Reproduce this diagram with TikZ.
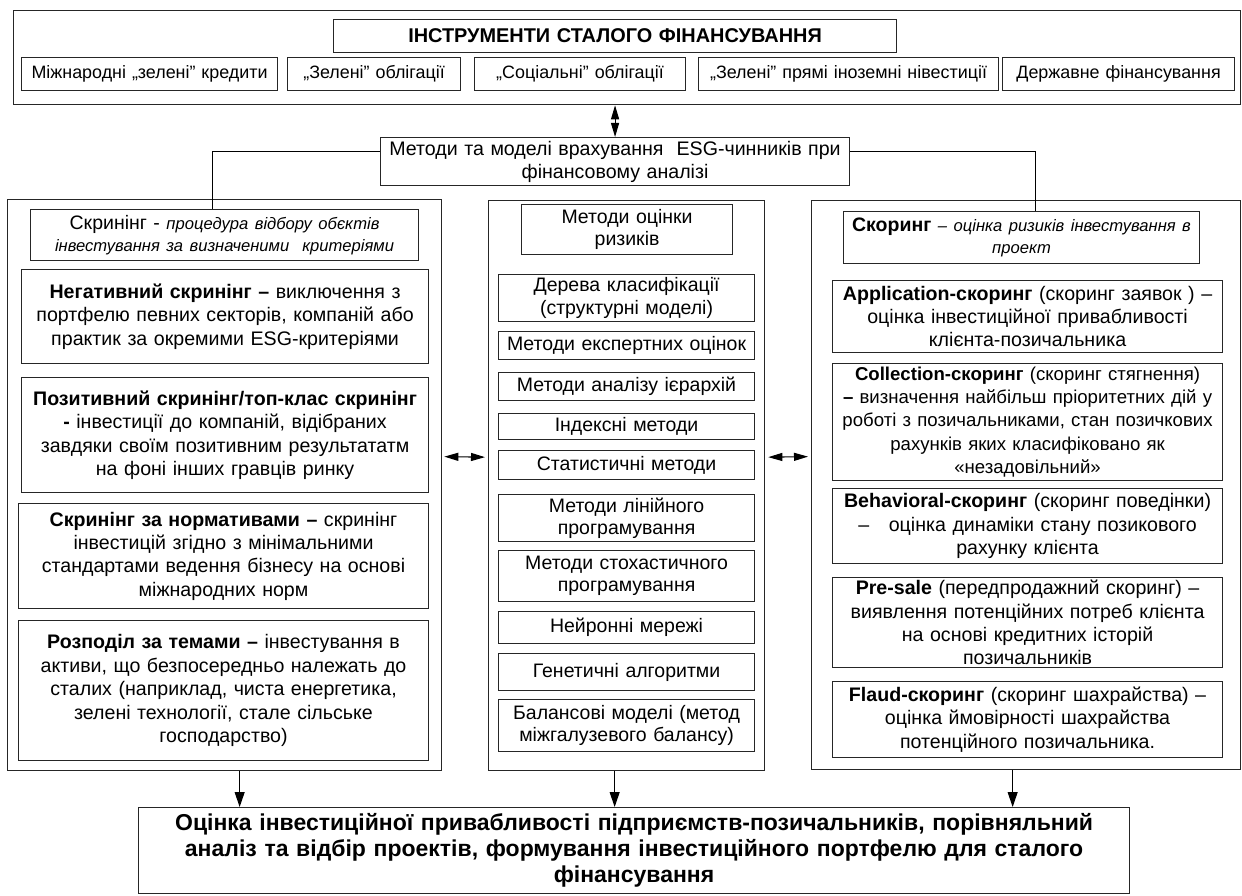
\documentclass[tikz,border=0pt]{standalone}
\usepackage{fontspec}
\setmainfont{Liberation Sans}
\usetikzlibrary{arrows.meta}
\newcommand\mybox[7][]{%
 \pgfmathsetmacro\myw{#5-#3}%
 \pgfmathsetmacro\myh{#6-#4}%
 \pgfmathsetmacro\mytw{#5-#3-4}%
 \node[box,minimum width=\myw pt,minimum height=\myh pt,text width=\mytw pt,anchor=north west,#1] (#2) at (#3,#4) {#7};}
\tikzset{
 box/.style={draw=black!85, line width=1.1pt, align=center, inner xsep=2pt, inner ysep=0pt, font=\fontsize{19.6}{23.4}\selectfont},
 frame/.style={line width=1.3pt},
 instr/.style={font=\fontsize{17.9}{20}\selectfont},
 midb/.style={font=\fontsize{19.5}{22.5}\selectfont},
 head/.style={font=\fontsize{19.5}{22}\selectfont},
 conn/.style={line width=1.1pt},
 arr/.style={line width=1.1pt, -{Triangle[length=15pt,width=10pt]}},
 dblv/.style={line width=1.1pt, {Triangle[length=14pt,width=8pt]}-{Triangle[length=14pt,width=8pt]}},
 dblh/.style={line width=1.1pt, {Triangle[length=14pt,width=8pt]}-{Triangle[length=14pt,width=8pt]}},
}
\newcommand\smit{\fontsize{16.6}{22}\selectfont\itshape}
\begin{document}
\begin{tikzpicture}[x=1pt,y=-1pt]
\useasboundingbox (0,0) rectangle (1242,896);
% top frame
\mybox[frame]{topouter}{13}{10}{1240}{104}{}
\mybox[font=\bfseries\fontsize{19.9}{22}\selectfont]{title}{333}{19}{896}{52}{ІНСТРУМЕНТИ СТАЛОГО ФІНАНСУВАННЯ}
\mybox[instr]{i1}{21}{57}{277}{90}{Міжнародні „зелені” кредити}
\mybox[instr]{i2}{287}{57}{460}{90}{„Зелені” облігації}
\mybox[instr]{i3}{474}{57}{685}{90}{„Соціальні” облігації}
\mybox[instr]{i4}{698}{57}{998}{90}{„Зелені” прямі іноземні нівестиції}
\mybox[instr]{i5}{1002}{57}{1234}{90}{Державне фінансування}
% methods
\mybox[font=\fontsize{19.6}{23}\selectfont]{meth}{380}{137}{849}{185}{Методи та моделі врахування \ ESG-чинників при\\ фінансовому аналізі}
% columns
\mybox[frame]{leftcol}{7}{199}{441}{770}{}
\mybox[frame]{midcol}{488}{200}{764}{770}{}
\mybox[frame]{rightcol}{811}{200}{1240}{769}{}
% left column
\mybox[head]{skr}{30}{209}{418}{260}{Скринінг - {\smit процедура відбору обєктів\\ інвестування за визначеними \ критеріями}}
\mybox{l1}{21}{269}{428}{363}{\textbf{Негативний скринінг –} виключення з\\ портфелю певних секторів, компаній або\\ практик за окремими ESG-критеріями}
\mybox{l2}{21}{377}{428}{492}{\textbf{Позитивний скринінг/топ-клас скринінг}\\ \textbf{-} інвестиції до компаній, відібраних\\ завдяки своїм позитивним результататм\\ на фоні інших гравців ринку}
\mybox{l3}{18}{503}{428}{608}{\textbf{Скринінг за нормативами –} скринінг\\ інвестицій згідно з мінімальними\\ стандартами ведення бізнесу на основі\\ міжнародних норм}
\mybox{l4}{18}{620}{428}{760}{\textbf{Розподіл за темами –} інвестування в\\ активи, що безпосередньо належать до\\ сталих (наприклад, чиста енергетика,\\ зелені технології, стале сільське\\ господарство)}
% middle column
\mybox[midb]{mh}{521}{204}{732}{254}{Методи оцінки\\ ризиків}
\mybox[midb]{m1}{498}{274}{754}{321}{Дерева класифікації\\ (структурні моделі)}
\mybox[midb]{m2}{498}{331}{754}{359}{Методи експертних оцінок}
\mybox[midb]{m3}{498}{372}{754}{400}{Методи аналізу ієрархій}
\mybox[midb]{m4}{498}{413}{754}{439}{Індексні методи}
\mybox[midb]{m5}{498}{450}{754}{479}{Статистичні методи}
\mybox[midb]{m6}{498}{494}{754}{541}{Методи лінійного\\ програмування}
\mybox[midb]{m7}{498}{550}{754}{601}{Методи стохастичного\\ програмування}
\mybox[midb]{m8}{498}{611}{754}{643}{Нейронні мережі}
\mybox[midb]{m9}{498}{653}{754}{690}{Генетичні алгоритми}
\mybox[midb]{m10}{498}{699}{754}{751}{Балансові моделі (метод\\ міжгалузевого балансу)}
% right column
\mybox[head]{skor}{843}{211}{1199}{263}{\textbf{Скоринг} {\smit – оцінка ризиків інвестування в\\ проект}}
\mybox{r1}{832}{280}{1222}{352}{\textbf{Application-скоринг} (скоринг заявок ) –\\ оцінка інвестиційної привабливості\\ клієнта-позичальника}
\mybox[font=\fontsize{18.6}{23.2}\selectfont]{r2}{832}{363}{1222}{480}{\textbf{Collection-скоринг} (скоринг стягнення)\\ \textbf{–} визначення найбільш пріоритетних дій у\\ роботі з позичальниками, стан позичкових\\ рахунків яких класифіковано як\\ «незадовільний»}
\mybox{r3}{832}{488}{1222}{563}{\textbf{Behavioral-скоринг} (скоринг поведінки)\\ – \ \ оцінка динаміки стану позикового\\ рахунку клієнта}
\mybox{r4}{832}{577}{1222}{667}{\textbf{Pre-sale} (передпродажний скоринг) –\\ виявлення потенційних потреб клієнта\\ на основі кредитних історій\\ позичальників}
\mybox{r5}{832}{681}{1222}{757}{\textbf{Flaud-скоринг} (скоринг шахрайства) –\\ оцінка ймовірності шахрайства\\ потенційного позичальника.}
% bottom
\mybox[font=\bfseries\fontsize{23}{26}\selectfont]{bottom}{138}{807}{1129}{893}{Оцінка інвестиційної привабливості підприємств-позичальників, порівняльний\\ аналіз та відбір проектів, формування інвестиційного портфелю для сталого\\ фінансування}
% connectors
\draw[dblv] (meth.north |- topouter.south) -- (meth.north);
\draw[conn] ([yshift=10pt]meth.west) -| ([xshift=-12pt]skr.north);
\draw[conn] ([yshift=10pt]meth.east) -| ([xshift=14pt]skor.north);
\draw[dblh] ([yshift=28.5pt,xshift=2pt]leftcol.east) -- ([yshift=28.5pt,xshift=-3pt]midcol.west);
\draw[dblh] ([yshift=28.5pt,xshift=3pt]midcol.east) -- ([yshift=28.5pt,xshift=-3pt]rightcol.west);
\draw[arr] ([xshift=15pt]leftcol.south) -- ([xshift=15pt]leftcol.south |- bottom.north);
\draw[arr] ([xshift=-12pt]midcol.south) -- ([xshift=-12pt]midcol.south |- bottom.north);
\draw[arr] ([xshift=-13.5pt]rightcol.south) -- ([xshift=-13.5pt]rightcol.south |- bottom.north);
\end{tikzpicture}
\end{document}
